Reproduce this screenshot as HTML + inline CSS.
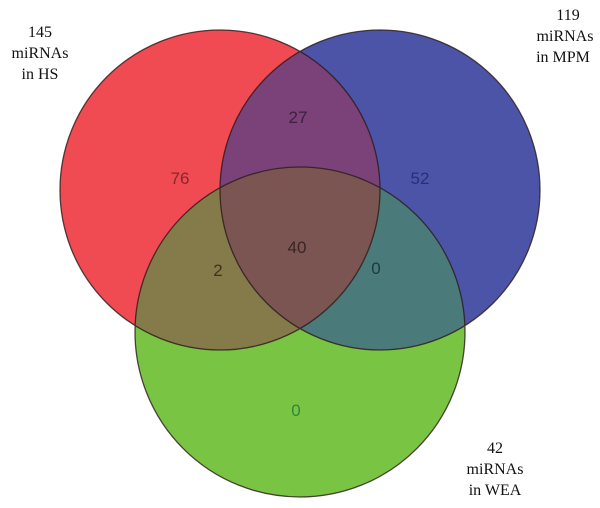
<!DOCTYPE html>
<html><head><style>body{margin:0;background:#fff}svg{display:block}</style></head><body>
<svg width="600" height="508" viewBox="0 0 600 508" xmlns="http://www.w3.org/2000/svg">
<defs>
<clipPath id="r"><circle cx="220" cy="190" r="160"/></clipPath>
<clipPath id="b"><circle cx="380" cy="190" r="160"/></clipPath>
<clipPath id="g"><circle cx="300" cy="332" r="165"/></clipPath>
</defs>
<circle cx="300" cy="332" r="165" fill="#79c443"/>
<circle cx="220" cy="190" r="160" fill="#f04a52"/>
<circle cx="380" cy="190" r="160" fill="#4c54a8"/>
<g clip-path="url(#r)"><circle cx="380" cy="190" r="160" fill="#7a4278"/><circle cx="300" cy="332" r="165" fill="#847a4a"/></g>
<g clip-path="url(#b)"><circle cx="300" cy="332" r="165" fill="#4a7a7a"/></g>
<g clip-path="url(#r)"><g clip-path="url(#b)"><circle cx="300" cy="332" r="165" fill="#7a5552"/></g></g>
<g fill="none" stroke="#2a1a1a" stroke-width="1.3" opacity="0.8">
<circle cx="220" cy="190" r="160"/><circle cx="380" cy="190" r="160"/><circle cx="300" cy="332" r="165"/>
</g>
<g font-family="Liberation Sans, sans-serif" font-size="17" text-anchor="middle">
<text x="180" y="184" fill="#8a2530">76</text>
<text x="298" y="123" fill="#3d2040">27</text>
<text x="420" y="184" fill="#2a2e78">52</text>
<text x="218" y="276" fill="#3a3520">2</text>
<text x="297" y="253" fill="#3a2525">40</text>
<text x="376" y="274" fill="#203a3a">0</text>
<text x="296" y="416" fill="#2a8a3a">0</text>
</g>
<g font-family="Liberation Serif, serif" font-size="16" text-anchor="middle" fill="#111">
<text x="40" y="37">145</text><text x="40" y="58">miRNAs</text><text x="40" y="79">in HS</text>
<text x="568" y="20">119</text><text x="565" y="41">miRNAs</text><text x="563" y="62">in MPM</text>
<text x="495" y="453">42</text><text x="495" y="474">miRNAs</text><text x="495" y="495">in WEA</text>
</g>
</svg>
</body></html>
